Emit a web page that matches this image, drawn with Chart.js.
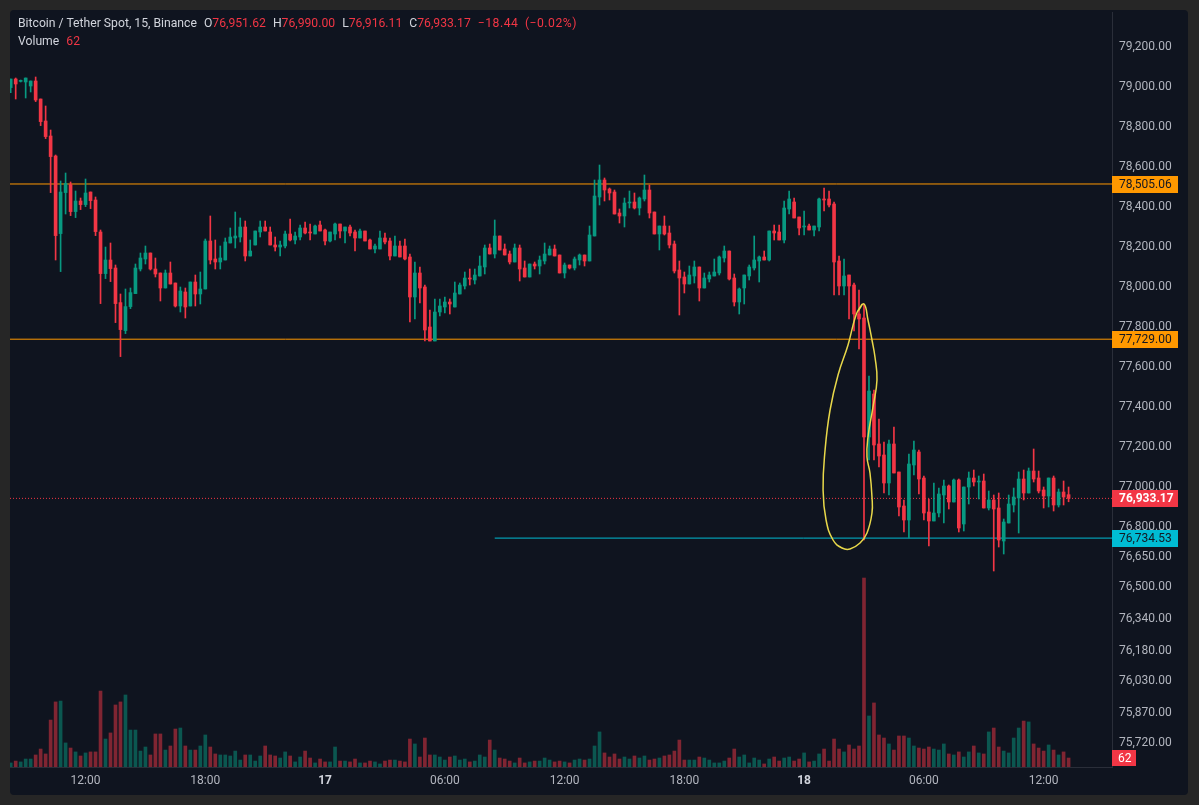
<!DOCTYPE html>
<html>
<head>
<meta charset="utf-8">
<script src="https://cdn.jsdelivr.net/npm/chart.js@4.4.1/dist/chart.umd.min.js"></script>
<style>
  body { margin: 0; background: #262626; width: 1199px; height: 805px; overflow: hidden; font-family: Roboto, "Noto Sans", sans-serif; }
  #painel { position: absolute; left: 10px; top: 10px; width: 1178px; height: 785px; background: #0f141f; border-radius: 4px; overflow: hidden; }
  #grafico { position: absolute; left: 0; top: 0; }
  .legenda { position: absolute; left: 8px; color: #d1d4dc; font-size: 12.2px; line-height: 16px; white-space: nowrap; }
  .legenda .k { margin-left: 7px; }
  .legenda .v { color: #f23645; }
  .legenda .var { letter-spacing: 0.5px; word-spacing: 3px; }
</style>
</head>
<body>
<div id="painel">
  <canvas id="grafico" width="1178" height="785"></canvas>
  <div class="legenda" style="top:5px">Bitcoin / Tether Spot, 15, Binance<span class="k">O</span><span class="v">76,951.62</span><span class="k">H</span><span class="v">76,990.00</span><span class="k">L</span><span class="v">76,916.11</span><span class="k">C</span><span class="v">76,933.17</span><span class="k v var">−18.44 (−0.02%)</span></div>
  <div class="legenda" style="top:23px">Volume<span class="k v">62</span></div>
</div>
<script>
// BTC/USDT 15m candles, 16/jan 08:15 -> 18/jan 13:15 (213 candles)
let abertura = [
  78987, 79030, 79018, 79015, 78995, 79020, 78930, 78820, 78745, 78645,
  78257, 78462, 78502, 78367, 78420, 78402, 78465, 78425, 78265, 78057,
  78125, 78085, 77912, 77772, 77892, 77957, 78080, 78130, 78160, 78080,
  78060, 77985, 78060, 78010, 77895, 77965, 77895, 78015, 77955, 77980,
  78220, 78130, 78115, 78125, 78210, 78235, 78240, 78290, 78145, 78200,
  78265, 78290, 78265, 78200, 78190, 78195, 78255, 78225, 78240, 78285,
  78265, 78255, 78300, 78275, 78220, 78255, 78305, 78270, 78290, 78265,
  78235, 78270, 78225, 78180, 78180, 78235, 78220, 78145, 78195, 78195,
  78140, 77940, 78060, 77990, 77790, 77720, 77865, 77890, 77915, 77890,
  77955, 77995, 78035, 78025, 78045, 78090, 78185, 78155, 78245, 78180,
  78155, 78115, 78185, 78085, 78040, 78105, 78095, 78120, 78150, 78180,
  78150, 78060, 78100, 78085, 78125, 78150, 78120, 78245, 78440, 78525,
  78480, 78465, 78360, 78345, 78410, 78415, 78385, 78430, 78475, 78365,
  78255, 78295, 78260, 78205, 78075, 78040, 78005, 78045, 78090, 77985,
  78030, 78045, 78060, 78135, 78170, 78035, 77915, 77985, 78045, 78085,
  78120, 78140, 78125, 78270, 78265, 78225, 78380, 78415, 78340, 78290,
  78295, 78275, 78290, 78430, 78430, 78405, 78120, 77995, 78050, 78000,
  77855, 77835, 77240, 77455, 77205, 77150, 77010, 77205, 77065, 76895,
  76825, 77100, 77165, 77035, 76865, 76820, 76860, 76950, 76995, 76915,
  77025, 76805, 76990, 77035, 77015, 77020, 76885, 76925, 76885, 76720,
  76810, 76900, 76935, 77030, 76960, 77070, 77035, 76975, 76945, 77035,
  76900, 76965, 76951.62
]
let maxima = [
  79030, 79035, 79025, 79035, 79020, 79040, 78930, 78895, 78775, 78650,
  78520, 78560, 78515, 78470, 78435, 78530, 78465, 78440, 78275, 78190,
  78210, 78100, 77955, 77980, 77985, 78105, 78160, 78195, 78160, 78135,
  78060, 78075, 78115, 78010, 77990, 77985, 78015, 78050, 78065, 78230,
  78345, 78225, 78195, 78235, 78285, 78365, 78335, 78320, 78225, 78270,
  78320, 78320, 78290, 78240, 78220, 78270, 78330, 78265, 78300, 78315,
  78305, 78300, 78320, 78280, 78265, 78310, 78305, 78290, 78300, 78275,
  78280, 78270, 78230, 78205, 78270, 78260, 78235, 78245, 78220, 78230,
  78155, 78115, 78090, 78000, 77875, 77930, 77930, 77940, 77930, 78015,
  78010, 78065, 78080, 78080, 78145, 78200, 78205, 78325, 78245, 78205,
  78170, 78205, 78200, 78120, 78105, 78115, 78145, 78210, 78195, 78200,
  78150, 78110, 78100, 78140, 78155, 78150, 78295, 78525, 78600, 78535,
  78485, 78475, 78380, 78435, 78470, 78460, 78440, 78550, 78500, 78365,
  78295, 78345, 78295, 78220, 78120, 78065, 78095, 78120, 78090, 78060,
  78065, 78130, 78145, 78195, 78170, 78055, 77985, 78050, 78100, 78245,
  78145, 78170, 78270, 78300, 78300, 78420, 78470, 78435, 78340, 78370,
  78305, 78295, 78435, 78485, 78470, 78415, 78145, 78130, 78050, 78010,
  77975, 77905, 77545, 77475, 77330, 77215, 77225, 77290, 77065, 76925,
  77155, 77220, 77175, 77045, 76930, 77010, 76985, 77025, 77000, 77030,
  77030, 76990, 77065, 77075, 77045, 77055, 76970, 76950, 76960, 76830,
  76950, 76985, 77065, 77075, 77085, 77180, 77070, 76990, 77035, 77045,
  76980, 77020, 76990
]
let minima = [
  78962, 78930, 79015, 78935, 78965, 78917, 78797, 78732, 78462, 78125,
  78067, 78355, 78347, 78337, 78377, 78392, 78382, 78247, 77907, 78032,
  78017, 77812, 77642, 77757, 77882, 77957, 78070, 78105, 78075, 78040,
  77920, 77985, 78005, 77890, 77865, 77835, 77895, 77895, 77905, 77980,
  78105, 78080, 78080, 78125, 78210, 78185, 78215, 78120, 78145, 78200,
  78240, 78270, 78200, 78170, 78145, 78185, 78220, 78205, 78225, 78255,
  78225, 78255, 78270, 78200, 78215, 78225, 78235, 78210, 78245, 78170,
  78235, 78220, 78180, 78160, 78180, 78205, 78125, 78145, 78140, 78125,
  77815, 77830, 77910, 77720, 77720, 77720, 77845, 77860, 77855, 77890,
  77955, 77980, 78000, 78005, 78045, 78055, 78155, 78135, 78175, 78150,
  78105, 78115, 78020, 78040, 78040, 78080, 78055, 78105, 78150, 78145,
  78060, 78035, 78080, 78075, 78100, 78095, 78120, 78245, 78400, 78420,
  78425, 78355, 78310, 78290, 78385, 78380, 78350, 78420, 78335, 78255,
  78175, 78250, 78185, 78060, 77850, 77960, 78005, 78010, 77920, 77985,
  78015, 78045, 78050, 78115, 78025, 77895, 77855, 77905, 78025, 78075,
  78015, 78125, 78120, 78225, 78225, 78210, 78355, 78335, 78250, 78250,
  78275, 78245, 78270, 78370, 78390, 77950, 77950, 77950, 77830, 77770,
  77680, 76725, 77125, 77125, 77090, 76960, 76950, 77060, 76845, 76765,
  76735, 77050, 76955, 76825, 76695, 76820, 76840, 76810, 76880, 76915,
  76765, 76770, 76905, 76995, 76930, 76885, 76875, 76570, 76690, 76655,
  76810, 76865, 76760, 76925, 76960, 77015, 76960, 76885, 76890, 76870,
  76890, 76900, 76916.11
]
let fechamento = [
  79030, 79005, 79023, 79035, 79020, 78925, 78817, 78742, 78642, 78247,
  78465, 78508, 78367, 78420, 78402, 78460, 78422, 78267, 78057, 78125,
  78082, 77907, 77777, 77892, 77962, 78085, 78135, 78160, 78080, 78055,
  77985, 78060, 78005, 77895, 77970, 77890, 78015, 77955, 77980, 78220,
  78125, 78115, 78135, 78215, 78240, 78245, 78290, 78145, 78170, 78270,
  78290, 78270, 78200, 78190, 78200, 78255, 78225, 78245, 78285, 78260,
  78260, 78295, 78270, 78220, 78265, 78305, 78270, 78290, 78260, 78235,
  78270, 78220, 78180, 78195, 78235, 78215, 78145, 78195, 78140, 78130,
  77940, 78060, 77985, 77775, 77720, 77865, 77895, 77915, 77905, 77960,
  78000, 78035, 78030, 78050, 78095, 78185, 78155, 78245, 78175, 78150,
  78115, 78185, 78080, 78040, 78105, 78095, 78125, 78155, 78180, 78145,
  78060, 78100, 78085, 78130, 78150, 78120, 78250, 78445, 78525, 78475,
  78460, 78355, 78345, 78410, 78415, 78385, 78435, 78475, 78360, 78255,
  78295, 78255, 78200, 78070, 78035, 78005, 78050, 78090, 77985, 78035,
  78050, 78065, 78140, 78170, 78030, 77915, 77980, 78050, 78090, 78125,
  78140, 78125, 78270, 78260, 78225, 78385, 78430, 78335, 78285, 78295,
  78275, 78295, 78430, 78425, 78400, 78115, 77995, 78045, 77995, 77855,
  77830, 77240, 77470, 77200, 77145, 77010, 77205, 77060, 76890, 76825,
  77105, 77175, 77030, 76860, 76820, 76860, 76955, 76995, 76915, 77025,
  76785, 76990, 77035, 77015, 77020, 76885, 76925, 76880, 76725, 76815,
  76905, 76940, 77030, 76960, 77070, 77030, 76970, 76945, 77035, 76900,
  76965, 76940, 76933.17
]
let volume = [
  28, 41, 35, 55, 55, 83, 124, 90, 324, 449,
  455, 166, 131, 104, 76, 97, 104, 104, 524, 193,
  235, 428, 449, 497, 255, 255, 110, 138, 83, 228,
  228, 117, 145, 262, 269, 145, 117, 117, 145, 221,
  138, 90, 83, 83, 76, 110, 48, 83, 83, 41,
  76, 145, 83, 76, 62, 104, 76, 35, 69, 110,
  62, 28, 55, 35, 35, 138, 41, 41, 35, 55,
  28, 28, 41, 35, 21, 41, 48, 48, 41, 35,
  193, 159, 69, 200, 83, 83, 69, 48, 69, 76,
  48, 55, 35, 41, 83, 69, 186, 117, 62, 55,
  41, 28, 62, 28, 35, 41, 41, 62, 48, 35,
  41, 35, 28, 48, 55, 48, 55, 145, 242, 97,
  69, 90, 55, 69, 55, 76, 62, 76, 48, 55,
  62, 76, 83, 110, 186, 48, 48, 48, 69, 62,
  48, 28, 28, 41, 62, 124, 69, 83, 28, 62,
  48, 21, 55, 69, 41, 62, 69, 41, 55, 97,
  35, 41, 90, 124, 41, 193, 124, 104, 152, 124,
  145, 1304, 352, 442, 221, 200, 159, 117, 214, 214,
  200, 145, 131, 124, 138, 124, 117, 159, 90, 83,
  104, 69, 104, 145, 97, 90, 242, 269, 138, 110,
  97, 200, 269, 317, 311, 159, 131, 110, 152, 117,
  83, 104, 62
]

// eixo do tempo (indice do candle -> rotulo)
let horaTicks = [15, 39, 63, 87, 111, 135, 159, 183, 207]
let horaRotulos = ['12:00', '18:00', '17', '06:00', '12:00', '18:00', '18', '06:00', '12:00']
let diasNovos = ['17', '18']

// eixo de preco
let precoTicks = [79200, 79000, 78800, 78600, 78400, 78200, 78000, 77800, 77600, 77400,
  77200, 77000, 76800, 76650, 76500, 76340, 76180, 76030, 75870, 75720]

// linhas horizontais desenhadas no grafico
let niveisValor = [78505.06, 77729.00, 76734.53, 76933.17]
let niveisInicio = [0, 0, 97, 0]

// elipse desenhada a mao (indice do candle, preco)
let desenhoIdx = [170.6, 169.4, 167.8, 165.8, 164.2, 163.2, 162.8, 163.4, 164.8, 166.6, 168.2, 170.2,
  171.6, 172.6, 172.6, 172.2, 171.6, 171.8, 172.8, 173.6, 173.2, 172.6, 171.8, 171.0, 169.8]
let desenhoPreco = [77905, 77850, 77700, 77550, 77375, 77175, 76975, 76825, 76725, 76685, 76680, 76710,
  76760, 76860, 76940, 77060, 77140, 77240, 77390, 77525, 77640, 77725, 77825, 77905, 77870]

// ---------------------------------------------------------------

const verde = '#089981'
const vermelho = '#f23645'
const fonte = 'Roboto, "Noto Sans", sans-serif'
const xMin = -0.14
const xMax = 220.7

let indices = abertura.map((o, i) => i)
let alta = indices.map(i => fechamento[i] >= abertura[i])
let corCandle = alta.map(a => a ? verde : vermelho)
let corVolume = alta.map(a => a ? 'rgba(8,153,129,0.5)' : 'rgba(242,54,69,0.5)')

function formatar(v) {
  return v.toLocaleString('en-US', { minimumFractionDigits: 2, maximumFractionDigits: 2 })
}

// o rotulo e de dia novo? (17, 18)
function ehDia(ctx) {
  if (!ctx || !ctx.tick) return false
  return diasNovos.includes(horaRotulos[horaTicks.indexOf(ctx.tick.value)])
}

function linhaNivel(k, cor, tracejado) {
  return {
    type: 'line',
    data: [{ x: niveisInicio[k] || xMin, y: niveisValor[k] }, { x: xMax, y: niveisValor[k] }],
    borderColor: cor,
    borderWidth: 1,
    borderDash: tracejado,
    pointRadius: 0,
    yAxisID: 'y',
    order: 4
  }
}

// etiquetas coloridas no eixo de preco + volume
const etiquetasEixo = {
  id: 'etiquetasEixo',
  afterDraw(chart) {
    const ctx = chart.ctx
    const y = chart.scales.y
    const esq = chart.chartArea.right
    const fundo = ['#ff9800', '#ff9800', '#00bcd4', vermelho]
    const texto = ['#131722', '#131722', '#131722', '#ffffff']
    ctx.save()
    ctx.textBaseline = 'middle'
    niveisValor.forEach((valor, k) => {
      const py = Math.round(y.getPixelForValue(valor))
      ctx.fillStyle = fundo[k]
      ctx.fillRect(esq, py - 8, 66, 17)
      ctx.fillStyle = texto[k]
      ctx.font = (k == 3 ? 'bold ' : '') + '12px ' + fonte
      ctx.fillText(formatar(valor), esq + 7, py + 1)
    })
    const ultimo = volume[volume.length - 1]
    const base = chart.chartArea.bottom
    ctx.fillStyle = alta[alta.length - 1] ? verde : vermelho
    ctx.fillRect(esq, base - 17, 24, 16)
    ctx.fillStyle = '#ffffff'
    ctx.font = '12px ' + fonte
    ctx.fillText(String(ultimo), esq + 6, base - 8)
    ctx.restore()
  }
}

new Chart(document.getElementById('grafico'), {
  type: 'bar',
  data: {
    datasets: [
      {
        data: indices.map(i => ({ x: i, y: [minima[i], maxima[i]] })),
        backgroundColor: corCandle,
        barThickness: 1,
        grouped: false,
        yAxisID: 'y',
        order: 2
      },
      {
        data: indices.map(i => ({ x: i, y: [abertura[i], fechamento[i]] })),
        backgroundColor: corCandle,
        barThickness: 3,
        minBarLength: 1,
        grouped: false,
        yAxisID: 'y',
        order: 1
      },
      {
        data: indices.map(i => ({ x: i, y: volume[i] })),
        backgroundColor: corVolume,
        barThickness: 3,
        grouped: false,
        yAxisID: 'v',
        order: 6
      },
      linhaNivel(0, '#ff9800', []),
      linhaNivel(1, '#ff9800', []),
      linhaNivel(2, '#00bcd4', []),
      linhaNivel(3, vermelho, [1, 2]),
      {
        type: 'line',
        data: desenhoIdx.map((x, k) => ({ x: x, y: desenhoPreco[k] })),
        borderColor: '#e8d84a',
        borderWidth: 1.5,
        tension: 0.45,
        pointRadius: 0,
        yAxisID: 'y',
        order: 0
      }
    ]
  },
  options: {
    responsive: false,
    animation: false,
    layout: { padding: { top: 2, left: 0, right: 0, bottom: 0 } },
    plugins: { legend: { display: false }, tooltip: { enabled: false } },
    scales: {
      x: {
        type: 'linear',
        min: xMin,
        max: xMax,
        offset: false,
        grid: { display: false, drawTicks: false },
        border: { color: '#2a2e39' },
        ticks: {
          autoSkip: false,
          maxRotation: 0,
          padding: 7,
          color: ctx => ehDia(ctx) ? '#d1d4dc' : '#b2b5be',
          font: ctx => ({ family: fonte, size: 12, weight: ehDia(ctx) ? 'bold' : 'normal' }),
          callback: v => horaRotulos[horaTicks.indexOf(v)]
        },
        afterBuildTicks: s => { s.ticks = horaTicks.map(v => ({ value: v })) },
        afterFit: s => { s.height = 28; s.paddingLeft = 0; s.paddingRight = 0 }
      },
      y: {
        position: 'right',
        min: 75590,
        max: 79365,
        grid: { display: false, drawTicks: false },
        border: { color: '#2a2e39' },
        ticks: {
          autoSkip: false,
          padding: 7,
          labelOffset: 2,
          color: '#b2b5be',
          font: { family: fonte, size: 12 },
          callback: v => formatar(v)
        },
        afterBuildTicks: s => { s.ticks = precoTicks.map(v => ({ value: v })) },
        afterFit: s => { s.width = 76; s.paddingTop = 0; s.paddingBottom = 0 }
      },
      v: { display: false, min: 0, max: 5210 }
    }
  },
  plugins: [etiquetasEixo]
})
</script>
</body>
</html>
